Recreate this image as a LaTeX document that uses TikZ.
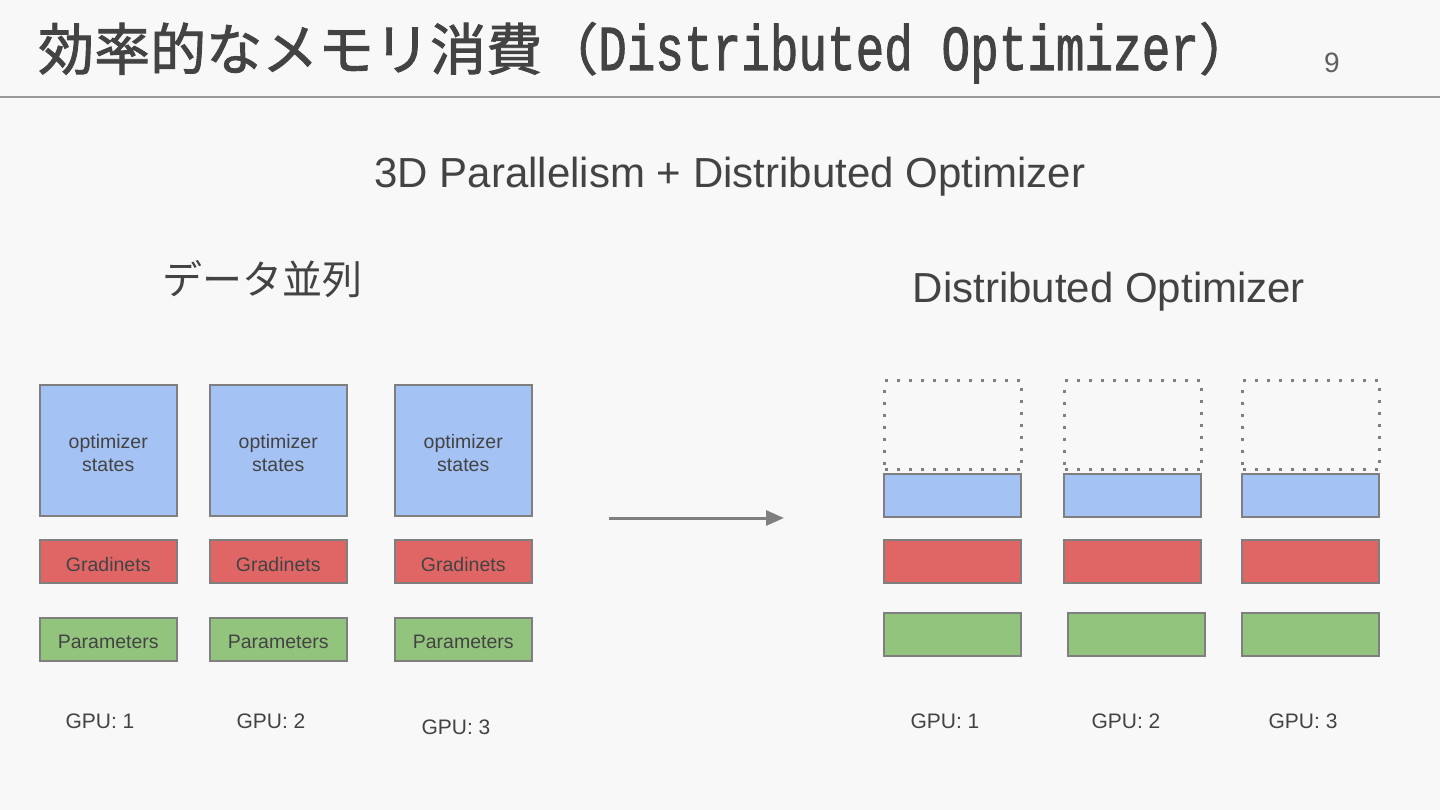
\documentclass[tikz,border=0pt]{standalone}
\usepackage{fontspec}
\usepackage{graphicx}
\setmainfont{Liberation Sans}
\newfontfamily\jp{Noto Sans CJK JP}
\newfontfamily\jpmid[FakeBold=1.6]{Noto Sans CJK JP}
\newfontfamily\monofam[FakeBold=1.6]{Liberation Mono}
\usetikzlibrary{arrows.meta}
\definecolor{bg}{HTML}{F8F8F8}
\definecolor{txt}{HTML}{434343}
\definecolor{bluef}{HTML}{A4C2F4}
\definecolor{redf}{HTML}{E06666}
\definecolor{greenf}{HTML}{93C47D}
\definecolor{edge}{HTML}{7F7F7F}
\definecolor{rule}{HTML}{9A9A9A}
\tikzset{
  cell/.style={draw=edge, line width=1.5pt, anchor=north west, minimum width=137pt, inner sep=0pt},
  celltext/.style={text=txt, font=\fontsize{19.5}{23}\selectfont, align=center, yshift=-3pt},
  optbox/.style={cell, fill=bluef, minimum height=131pt},
  gradbox/.style={cell, fill=redf, minimum height=43pt},
  parbox/.style={cell, fill=greenf, minimum height=43pt},
  blueslim/.style={cell, fill=bluef, minimum height=43pt},
  ghost/.style={draw=edge, line width=3pt, dash pattern=on 3pt off 9pt, anchor=north west, minimum width=137pt, minimum height=89pt, inner sep=0pt},
  gpulab/.style={text=txt, font=\fontsize{21}{24}\selectfont},
  heading/.style={text=txt, font=\fontsize{42}{48}\selectfont},
  flow/.style={draw=edge, line width=3pt, -{Triangle[length=18pt,width=15pt]}}
}
\begin{document}
\begin{tikzpicture}[x=1pt,y=-1pt]
\fill[bg] (0,0) rectangle (1440,810);
\useasboundingbox (0,0) rectangle (1440,810);
% title
\node[anchor=base west, inner sep=0pt, text=txt] (title) at (38,70)
  {\fontsize{56}{60}\selectfont{\jpmid 効率的なメモリ消費（}{\fontsize{64}{66}\selectfont\monofam\scalebox{0.745}[1]{Distributed Optimizer}}{\jpmid ）}};
\node[text=txt!85, font=\fontsize{28}{30}\selectfont] (pnum) at (1332,63) {9};
\draw[rule, line width=2pt] (0,97) -- (1440,97);
% headings
\node[heading] (sub) at (730,177) {3D Parallelism + Distributed Optimizer};
\node[heading, font=\jp\fontsize{40}{46}\selectfont] (dp) at (262,279) {データ並列};
\node[heading] (do) at (1109,292) {Distributed Optimizer};
% left: data parallel
\node[optbox, label={[celltext]center:optimizer\\states}] (o1) at (39,384) {};
\node[optbox, label={[celltext]center:optimizer\\states}] (o2) at (209,384) {};
\node[optbox, label={[celltext]center:optimizer\\states}] (o3) at (394,384) {};
\node[gradbox, label={[celltext]center:Gradinets}] (gr1) at (39,539) {};
\node[gradbox, label={[celltext]center:Gradinets}] (gr2) at (209,539) {};
\node[gradbox, label={[celltext]center:Gradinets}] (gr3) at (394,539) {};
\node[parbox, label={[celltext]center:Parameters}] (p1) at (39,617) {};
\node[parbox, label={[celltext]center:Parameters}] (p2) at (209,617) {};
\node[parbox, label={[celltext]center:Parameters}] (p3) at (394,617) {};
\node[gpulab] (g1) at (100,721) {GPU: 1};
\node[gpulab] (g2) at (271,721) {GPU: 2};
\node[gpulab] (g3) at (456,727) {GPU: 3};
% arrow
\coordinate (as) at (609,518);
\coordinate (ae) at (784,518);
\draw[flow] (as) -- (ae);
% right: distributed optimizer
\node[ghost] (d1) at (883,379) {};
\node[ghost] (d2) at (1063,379) {};
\node[ghost] (d3) at (1241,379) {};
\node[blueslim] (b1) at (883,473) {};
\node[blueslim] (b2) at (1063,473) {};
\node[blueslim] (b3) at (1241,473) {};
\node[gradbox] (r1) at (883,539) {};
\node[gradbox] (r2) at (1063,539) {};
\node[gradbox] (r3) at (1241,539) {};
\node[parbox] (q1) at (883,612) {};
\node[parbox] (q2) at (1067,612) {};
\node[parbox] (q3) at (1241,612) {};
\node[gpulab] (h1) at (945,721) {GPU: 1};
\node[gpulab] (h2) at (1126,721) {GPU: 2};
\node[gpulab] (h3) at (1303,721) {GPU: 3};
\end{tikzpicture}
\end{document}
